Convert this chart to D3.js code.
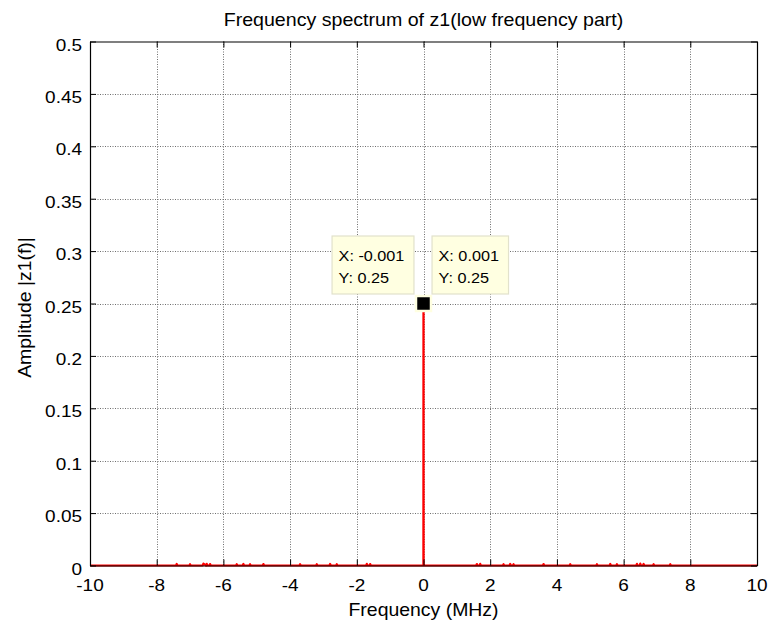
<!DOCTYPE html>
<html>
<head>
<meta charset="utf-8">
<script src="https://cdn.jsdelivr.net/npm/d3@7"></script>
<style>
  html, body { margin: 0; padding: 0; background: #fff; }
  svg { display: block; }
  text { font-family: Arial, "Liberation Sans", Helvetica, sans-serif; fill: #000; }
</style>
</head>
<body>
<svg id="chart" width="771" height="620"></svg>
<script>
// Spectrum samples: frequency (MHz) and amplitude |z1(f)|
const freqMHz = [-10, -7.42, -7.4, -7.38, -7.02, -7.0, -6.98, -6.62, -6.6, -6.52, -6.5, -6.48, -6.42, -6.4, -6.38,
  -5.62, -5.6, -5.58, -5.42, -5.4, -5.38, -5.22, -5.2, -5.18, -4.82, -4.8, -4.78, -3.72, -3.7, -3.68, -3.22, -3.2, -3.18,
  -2.82, -2.8, -2.78, -2.62, -2.6, -2.58, -1.72, -1.7, -1.68, -1.62, -1.6, -1.58,
  -0.003, -0.001, 0.001, 0.003,
  1.58, 1.6, 1.62, 1.68, 1.7, 1.72, 2.38, 2.4, 2.42, 2.58, 2.6, 2.62, 2.68, 2.7, 2.72, 3.58, 3.6, 3.62,
  4.38, 4.4, 4.42, 5.18, 5.2, 5.22, 5.58, 5.6, 5.62, 5.78, 5.8, 5.82, 6.38, 6.4, 6.42, 6.48, 6.5, 6.52, 6.58, 6.6, 6.62,
  6.88, 6.9, 6.92, 7.38, 7.4, 7.42, 10];
const amplitude = [0, 0, 0.0015, 0, 0, 0.0012, 0, 0, 0.0018, 0, 0.0016, 0, 0, 0.0014, 0,
  0, 0.0013, 0, 0, 0.0015, 0, 0, 0.0012, 0, 0, 0.0014, 0, 0, 0.0013, 0, 0, 0.0012, 0,
  0, 0.0015, 0, 0, 0.0013, 0, 0, 0.0016, 0, 0, 0.0014, 0,
  0, 0.25, 0.25, 0,
  0, 0.0014, 0, 0, 0.0016, 0, 0, 0.0013, 0, 0, 0.0015, 0, 0, 0.0012, 0, 0, 0.0014, 0,
  0, 0.0013, 0, 0, 0.0012, 0, 0, 0.0015, 0, 0, 0.0013, 0, 0, 0.0016, 0, 0, 0.0018, 0, 0, 0.0015, 0,
  0, 0.0013, 0, 0, 0.0012, 0, 0];

// Axis ticks
const xTicks = [-10, -8, -6, -4, -2, 0, 2, 4, 6, 8, 10];
const yTicks = [0, 0.05, 0.1, 0.15, 0.2, 0.25, 0.3, 0.35, 0.4, 0.45, 0.5];

// Data tips
const tipX = [-0.001, 0.001];
const tipY = [0.25, 0.25];

const titleText = "Frequency spectrum of z1(low frequency part)";
const xLabelText = "Frequency (MHz)";
const yLabelText = "Amplitude |z1(f)|";

const svg = d3.select("#chart");
const plotL = 90, plotR = 757, plotT = 41.5, plotB = 565.5;

const x = d3.scaleLinear().domain([-10, 10]).range([plotL, plotR]);
const y = d3.scaleLinear().domain([0, 0.5]).range([plotB, plotT]);

// Grid
const grid = svg.append("g").attr("stroke", "#6e6e6e").attr("stroke-width", 1)
  .attr("stroke-dasharray", "1,1.5").attr("fill", "none");
grid.selectAll(".gx").data(xTicks.slice(1, -1)).join("line")
  .attr("x1", d => Math.round(x(d)) + 0.5).attr("x2", d => Math.round(x(d)) + 0.5)
  .attr("y1", plotT).attr("y2", plotB);
grid.selectAll(".gy").data(yTicks.slice(1, -1)).join("line")
  .attr("y1", d => Math.round(y(d)) + 0.5).attr("y2", d => Math.round(y(d)) + 0.5)
  .attr("x1", plotL).attr("x2", plotR);

// Spectrum line
const line = d3.line().x((d, i) => x(freqMHz[i])).y(d => y(d));
svg.append("path").datum(amplitude)
  .attr("d", line).attr("fill", "none")
  .attr("stroke", "#ff0000").attr("stroke-width", 2.2).attr("stroke-linejoin", "round");

// Axis box with inward ticks on all sides
const tickLen = 6;
const axes = svg.append("g");
axes.append("g").attr("transform", `translate(0,${plotB})`)
  .call(d3.axisBottom(x).tickValues(xTicks).tickSize(-tickLen).tickSizeOuter(0).tickFormat(""));
axes.append("g").attr("transform", `translate(0,${plotT})`)
  .call(d3.axisTop(x).tickValues(xTicks).tickSize(-tickLen).tickSizeOuter(0).tickFormat(""));
axes.append("g").attr("transform", `translate(${plotL},0)`)
  .call(d3.axisLeft(y).tickValues(yTicks).tickSize(-tickLen).tickSizeOuter(0).tickFormat(""));
axes.append("g").attr("transform", `translate(${plotR},0)`)
  .call(d3.axisRight(y).tickValues(yTicks).tickSize(-tickLen).tickSizeOuter(0).tickFormat(""));
axes.selectAll(".domain").attr("stroke", "#000").attr("stroke-width", 1.2);
axes.selectAll(".tick line").attr("stroke", "#000").attr("stroke-width", 1);

// Tick labels (slightly wide glyphs)
const tickFont = 16.5, tickStretch = 1.15;
svg.append("g").selectAll("text").data(xTicks).join("text")
  .attr("transform", d => `translate(${x(d)},${plotB + 25.5}) scale(${tickStretch},1)`)
  .attr("text-anchor", "middle").attr("font-size", tickFont)
  .text(d => String(d));
svg.append("g").selectAll("text").data(yTicks).join("text")
  .attr("transform", d => `translate(${plotL - 8},${y(d) + 9}) scale(${tickStretch},1)`)
  .attr("text-anchor", "end").attr("font-size", tickFont)
  .text(d => String(d));

// Title and axis labels
svg.append("text").attr("transform", `translate(${(plotL + plotR) / 2},25.5) scale(1.06,1)`)
  .attr("text-anchor", "middle").attr("font-size", 18.5).text(titleText);
svg.append("text").attr("transform", `translate(${(plotL + plotR) / 2},616) scale(1.08,1)`)
  .attr("text-anchor", "middle").attr("font-size", 18).text(xLabelText);
svg.append("text").attr("transform", `translate(31,${(plotT + plotB) / 2 + 4}) rotate(-90) scale(1.08,1)`)
  .attr("text-anchor", "middle").attr("font-size", 18).text(yLabelText);

// Data tip marker
const mx = x(tipX[0] / 2 + tipX[1] / 2), my = y(tipY[0]);
svg.append("rect").attr("x", mx - 7.5).attr("y", my - 7.5).attr("width", 15).attr("height", 15)
  .attr("fill", "#000").attr("stroke", "#ffffe1").attr("stroke-width", 2.5);

// Data tip boxes
const tipFont = 14.5, tipStretch = 1.12;
tipX.forEach((tx, i) => {
  const g = svg.append("g");
  const lines = [`X: ${tx}`, `Y: ${tipY[i]}`];
  const rect = g.append("rect").attr("fill", "#ffffe1").attr("stroke", "#e2e2cc").attr("stroke-width", 1.2);
  const texts = g.selectAll("text").data(lines).join("text")
    .attr("font-size", tipFont).text(d => d);
  let maxW = 0;
  texts.each(function () { maxW = Math.max(maxW, this.getComputedTextLength() * tipStretch); });
  const w = maxW + 16, h = 58;
  const px = x(tx), py = y(tipY[i]);
  const bx = i === 0 ? Math.min(px, mx) - 9.5 - w : Math.max(px, mx) + 8.5;
  const by = py - 9.5 - h;
  rect.attr("x", bx).attr("y", by).attr("width", w).attr("height", h);
  texts.attr("transform", (d, k) => `translate(${bx + 6.5},${by + 24.5 + k * 22.6}) scale(${tipStretch},1)`);
});
</script>
</body>
</html>
